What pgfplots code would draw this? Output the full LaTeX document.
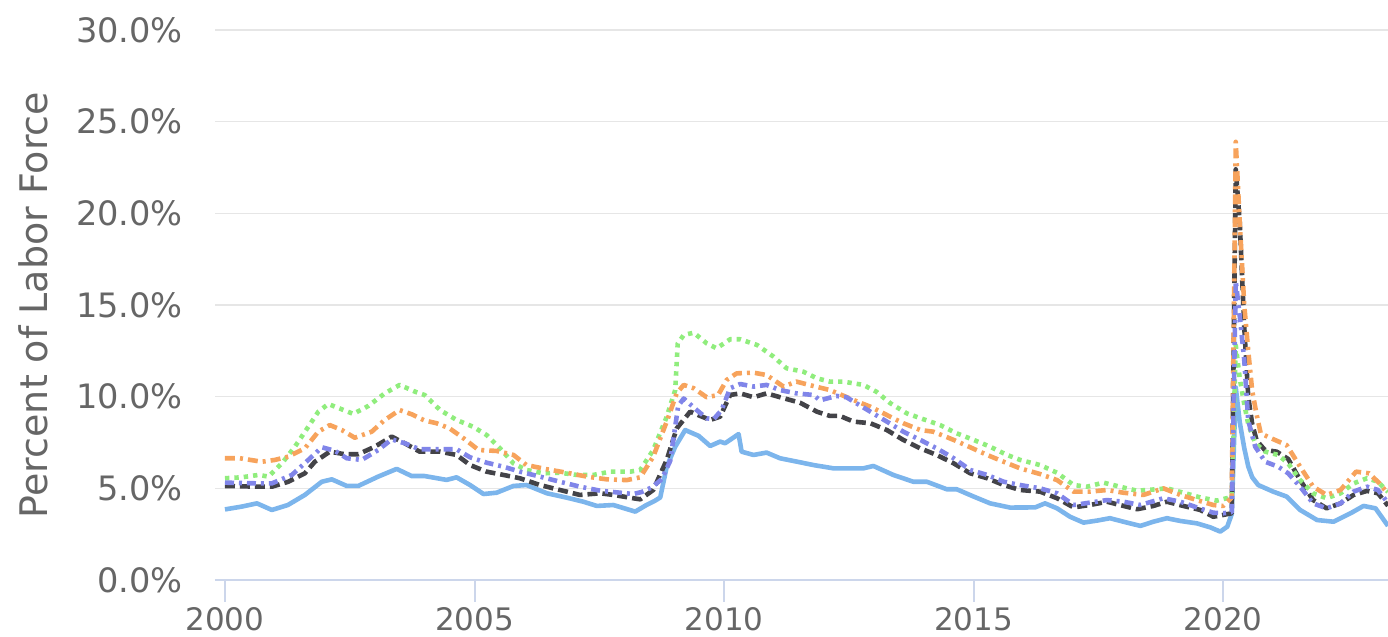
\documentclass[border=0pt]{standalone}
\usepackage{fontspec}
\setmainfont{DejaVu Sans}
\usepackage{pgfplots}
\pgfplotsset{compat=1.18}
\definecolor{hcblue}{HTML}{7CB5EC}
\definecolor{hcblack}{HTML}{434348}
\definecolor{hcgreen}{HTML}{90ED7D}
\definecolor{hcorange}{HTML}{F7A35C}
\definecolor{hcpurple}{HTML}{8085E9}
\definecolor{txtgray}{HTML}{666666}
\definecolor{gridgray}{HTML}{E6E6E6}
\definecolor{axisblue}{HTML}{CCD6EB}
\begin{document}
\begin{tikzpicture}
\path[use as bounding box] (-107.5pt,-28.5pt) rectangle (586.5pt,290pt);
\begin{axis}[
  at={(0,0)}, anchor=south west,
  width=586.5pt, height=275pt, scale only axis,
  xmin=1999.8, xmax=2023.3, ymin=0, ymax=30,
  xtick={2000,2005,2010,2015,2020},
  ytick={0,5,10,15,20,25,30},
  /pgf/number format/assume math mode=true,
  /pgf/number format/1000 sep={},
  yticklabel={\pgfmathprintnumber[fixed,fixed zerofill,precision=1]{\tick}\%},
  axis x line*=bottom, axis y line*=left,
  x axis line style={draw=axisblue, line width=1pt, -},
  y axis line style={draw=none},
  ytick style={draw=none},
  xtick style={draw=axisblue, line width=1pt},
  xtick align=outside,
  major tick length=11pt,
  ymajorgrids, grid style={gridgray, line width=0.8pt},
  xticklabel style={font=\fontsize{15.5}{17}\selectfont, text=txtgray, yshift=1pt},
  yticklabel style={font=\fontsize{16.8}{19}\selectfont, text=txtgray, xshift=-12.5pt},
  ylabel={Percent of Labor Force},
  every axis y label/.style={at={(axis description cs:-0.155,0.5)}, rotate=90, anchor=center, font=\fontsize{19}{21}\selectfont, text=txtgray},
  every axis plot/.append style={line width=2.3pt, line join=round},
]
% solid blue
\addplot[hcblue] coordinates {
(2000.0,3.85)(2000.33,4.0)(2000.64,4.18)(2000.94,3.82)(2001.26,4.09)(2001.6,4.64)(2001.94,5.36)(2002.14,5.49)(2002.44,5.13)(2002.67,5.13)(2003.07,5.64)(2003.44,6.06)(2003.74,5.67)(2004.0,5.67)(2004.44,5.46)(2004.64,5.6)(2004.91,5.18)(2005.18,4.69)(2005.44,4.76)(2005.78,5.13)(2006.04,5.18)(2006.45,4.73)(2006.85,4.49)(2007.18,4.27)(2007.45,4.04)(2007.78,4.09)(2008.22,3.73)(2008.45,4.1)(2008.6,4.3)(2008.72,4.5)(2008.85,6.18)(2009.02,7.27)(2009.22,8.18)(2009.49,7.86)(2009.72,7.31)(2009.92,7.55)(2010.02,7.46)(2010.29,7.96)(2010.35,7.0)(2010.59,6.82)(2010.85,6.95)(2011.12,6.64)(2011.45,6.46)(2011.79,6.27)(2012.19,6.09)(2012.79,6.09)(2012.99,6.22)(2013.39,5.73)(2013.79,5.36)(2014.06,5.36)(2014.46,4.95)(2014.66,4.95)(2015.0,4.55)(2015.33,4.18)(2015.73,3.95)(2016.23,3.96)(2016.43,4.18)(2016.67,3.91)(2016.93,3.45)(2017.2,3.13)(2017.47,3.24)(2017.73,3.37)(2018.0,3.18)(2018.34,2.95)(2018.6,3.18)(2018.87,3.37)(2019.14,3.22)(2019.47,3.09)(2019.74,2.87)(2019.94,2.64)(2020.08,2.91)(2020.17,3.6)(2020.25,10.5)(2020.33,8.6)(2020.42,7.2)(2020.5,6.2)(2020.58,5.6)(2020.7,5.18)(2021.0,4.82)(2021.27,4.55)(2021.54,3.82)(2021.88,3.27)(2022.21,3.18)(2022.55,3.64)(2022.81,4.04)(2023.05,3.91)(2023.3,2.95)
};
% dashed black
\addplot[hcblack, dash pattern=on 5pt off 2.5pt] coordinates {
(2000.0,5.13)(2000.67,5.09)(2000.94,5.09)(2001.27,5.36)(2001.6,5.82)(2001.8,6.45)(2002.1,7.0)(2002.4,6.86)(2002.67,6.86)(2003.0,7.27)(2003.34,7.82)(2003.6,7.46)(2003.9,7.0)(2004.31,7.0)(2004.64,6.82)(2004.91,6.27)(2005.24,5.91)(2005.58,5.73)(2005.91,5.55)(2006.31,5.18)(2006.71,4.91)(2007.11,4.64)(2007.52,4.73)(2007.78,4.64)(2008.18,4.46)(2008.32,4.4)(2008.58,4.91)(2008.85,6.55)(2009.05,8.27)(2009.32,9.18)(2009.52,8.95)(2009.72,8.73)(2009.92,8.91)(2010.12,10.09)(2010.32,10.18)(2010.59,9.97)(2010.85,10.18)(2011.12,9.97)(2011.52,9.67)(2011.86,9.18)(2012.12,8.95)(2012.32,8.95)(2012.59,8.64)(2012.93,8.55)(2013.26,8.18)(2013.59,7.64)(2013.93,7.18)(2014.26,6.82)(2014.6,6.36)(2014.93,5.82)(2015.27,5.55)(2015.6,5.18)(2015.93,4.91)(2016.33,4.82)(2016.67,4.46)(2017.0,3.96)(2017.33,4.09)(2017.67,4.27)(2017.93,4.09)(2018.27,3.86)(2018.6,4.04)(2018.87,4.27)(2019.2,4.04)(2019.54,3.82)(2019.8,3.45)(2020.0,3.55)(2020.17,3.64)(2020.25,22.4)(2020.33,19.5)(2020.42,13.8)(2020.5,10.0)(2020.58,8.5)(2020.67,7.6)(2020.83,7.1)(2021.07,7.0)(2021.3,6.6)(2021.54,5.45)(2021.8,4.36)(2022.07,3.91)(2022.35,4.18)(2022.61,4.64)(2022.88,4.86)(2023.1,4.73)(2023.3,4.05)
};
% dotted green
\addplot[hcgreen, dash pattern=on 2.2pt off 2.5pt] coordinates {
(2000.0,5.55)(2000.33,5.6)(2000.67,5.73)(2000.87,5.64)(2001.14,6.36)(2001.4,7.27)(2001.67,8.36)(2001.87,9.18)(2002.07,9.6)(2002.34,9.31)(2002.57,9.06)(2002.87,9.49)(2003.2,10.18)(2003.5,10.64)(2003.81,10.27)(2004.0,10.09)(2004.31,9.27)(2004.64,8.73)(2004.97,8.36)(2005.24,7.91)(2005.51,7.18)(2005.78,6.36)(2006.04,6.0)(2006.38,5.82)(2006.71,5.85)(2007.05,5.73)(2007.38,5.73)(2007.72,5.91)(2008.12,5.91)(2008.32,6.0)(2008.58,7.09)(2008.85,8.91)(2009.02,10.36)(2009.07,12.9)(2009.19,13.36)(2009.39,13.49)(2009.65,12.91)(2009.85,12.64)(2010.12,13.13)(2010.32,13.13)(2010.66,12.82)(2010.99,12.18)(2011.25,11.55)(2011.59,11.36)(2011.86,11.0)(2012.12,10.82)(2012.39,10.82)(2012.79,10.64)(2013.05,10.27)(2013.33,9.64)(2013.66,9.09)(2013.99,8.77)(2014.33,8.45)(2014.66,8.0)(2015.0,7.64)(2015.33,7.27)(2015.67,6.82)(2015.93,6.55)(2016.33,6.27)(2016.67,5.85)(2017.0,5.18)(2017.27,5.09)(2017.6,5.31)(2017.93,5.09)(2018.27,4.87)(2018.67,4.95)(2018.87,5.0)(2019.2,4.76)(2019.54,4.5)(2019.87,4.33)(2020.07,4.46)(2020.17,4.5)(2020.25,12.8)(2020.33,11.0)(2020.42,9.6)(2020.5,8.5)(2020.64,7.46)(2020.84,7.0)(2021.1,6.82)(2021.3,6.36)(2021.54,5.45)(2021.8,4.73)(2022.07,4.46)(2022.35,4.73)(2022.61,5.27)(2022.88,5.55)(2023.1,5.36)(2023.3,4.8)
};
% dash-dot orange
\addplot[hcorange, dash pattern=on 5pt off 2.5pt on 1.5pt off 2.5pt] coordinates {
(2000.0,6.64)(2000.3,6.64)(2000.74,6.45)(2001.0,6.55)(2001.27,6.73)(2001.6,7.18)(2001.87,8.09)(2002.1,8.45)(2002.34,8.18)(2002.6,7.76)(2002.94,8.09)(2003.2,8.73)(2003.5,9.27)(2003.74,9.04)(2004.0,8.7)(2004.24,8.55)(2004.5,8.27)(2004.78,7.73)(2005.08,7.09)(2005.44,7.04)(2005.78,6.82)(2006.04,6.27)(2006.45,6.04)(2006.85,5.85)(2007.25,5.64)(2007.65,5.49)(2008.05,5.45)(2008.32,5.6)(2008.58,6.73)(2008.85,8.64)(2009.05,10.18)(2009.19,10.64)(2009.39,10.46)(2009.65,9.97)(2009.88,10.09)(2010.05,10.91)(2010.25,11.27)(2010.59,11.31)(2010.85,11.18)(2011.19,10.55)(2011.45,10.82)(2011.79,10.58)(2012.12,10.36)(2012.59,9.82)(2012.93,9.45)(2013.26,9.0)(2013.59,8.55)(2013.93,8.18)(2014.19,8.09)(2014.6,7.64)(2014.93,7.24)(2015.27,6.82)(2015.6,6.45)(2015.93,6.09)(2016.33,5.78)(2016.67,5.45)(2017.0,4.82)(2017.33,4.82)(2017.67,4.91)(2018.0,4.76)(2018.4,4.64)(2018.8,5.0)(2019.14,4.64)(2019.47,4.36)(2019.8,4.09)(2020.0,4.04)(2020.17,4.5)(2020.25,23.9)(2020.33,19.5)(2020.42,15.0)(2020.5,12.5)(2020.58,10.3)(2020.67,9.0)(2020.75,8.0)(2020.9,7.8)(2021.27,7.36)(2021.54,6.18)(2021.8,5.09)(2022.07,4.64)(2022.35,4.91)(2022.66,5.91)(2022.92,5.82)(2023.13,5.27)(2023.3,4.7)
};
% dash-dot purple
\addplot[hcpurple, dash pattern=on 4.5pt off 2.5pt on 1.5pt off 2.5pt] coordinates {
(2000.0,5.31)(2000.67,5.27)(2000.94,5.27)(2001.34,5.73)(2001.67,6.55)(2001.94,7.24)(2002.2,7.05)(2002.44,6.64)(2002.74,6.55)(2003.07,7.09)(2003.34,7.67)(2003.6,7.46)(2003.9,7.13)(2004.31,7.13)(2004.64,7.13)(2004.91,6.69)(2005.24,6.4)(2005.58,6.18)(2005.91,5.91)(2006.31,5.64)(2006.71,5.36)(2007.11,5.09)(2007.52,4.87)(2007.92,4.76)(2008.18,4.69)(2008.35,4.8)(2008.55,5.05)(2008.75,5.5)(2008.92,6.5)(2009.08,9.5)(2009.19,9.9)(2009.45,9.27)(2009.65,8.82)(2009.79,8.77)(2009.95,9.27)(2010.12,10.46)(2010.32,10.69)(2010.59,10.55)(2010.85,10.64)(2011.12,10.36)(2011.45,10.18)(2011.79,10.09)(2011.92,9.8)(2012.25,10.04)(2012.45,9.97)(2012.93,9.18)(2013.26,8.64)(2013.59,8.09)(2013.93,7.64)(2014.26,7.18)(2014.6,6.64)(2014.93,6.0)(2015.27,5.73)(2015.6,5.36)(2015.93,5.18)(2016.33,5.0)(2016.67,4.73)(2017.0,4.09)(2017.33,4.22)(2017.67,4.36)(2018.0,4.27)(2018.34,4.09)(2018.8,4.46)(2019.14,4.27)(2019.47,3.96)(2019.8,3.67)(2020.0,3.64)(2020.17,3.7)(2020.25,16.3)(2020.33,14.4)(2020.42,12.0)(2020.5,8.7)(2020.64,7.27)(2020.84,6.45)(2021.1,6.18)(2021.3,5.82)(2021.54,5.09)(2021.8,4.18)(2022.07,3.91)(2022.35,4.18)(2022.61,4.82)(2022.88,5.09)(2023.1,4.91)(2023.3,4.2)
};
\end{axis}
\end{tikzpicture}
\end{document}
